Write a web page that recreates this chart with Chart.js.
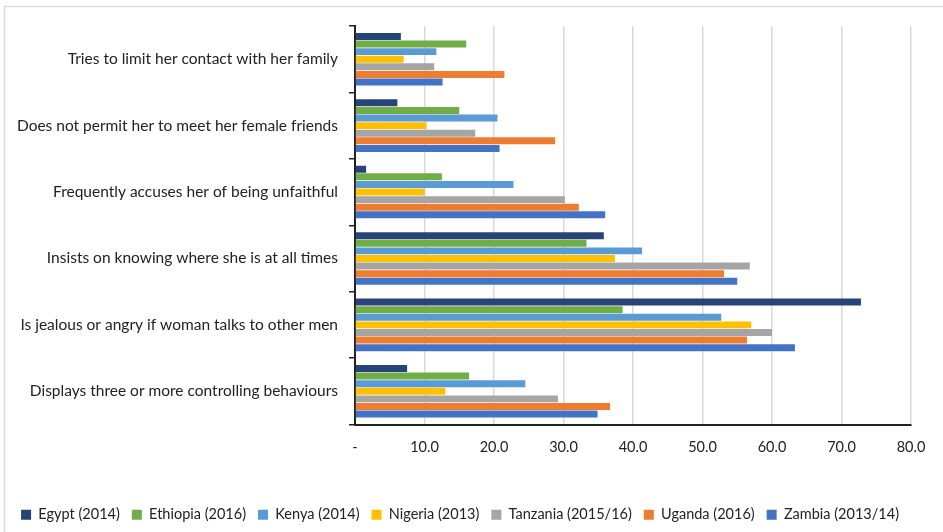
<!DOCTYPE html>
<html>
<head>
<meta charset="utf-8">
<script src="https://cdn.jsdelivr.net/npm/chart.js@4"></script>
<style>
  html, body { margin: 0; padding: 0; background: #fff; }
</style>
</head>
<body>
<canvas id="myChart" width="943" height="532"></canvas>
<script>
const behaviours = [
  "Tries to limit her contact with her family",
  "Does not permit her to meet her female friends",
  "Frequently accuses her of being unfaithful",
  "Insists on knowing where she is at all times",
  "Is jealous or angry if woman talks to other men",
  "Displays three or more controlling behaviours",
];

const countries = [
  "Egypt (2014)",
  "Ethiopia (2016)",
  "Kenya (2014)",
  "Nigeria (2013)",
  "Tanzania (2015/16)",
  "Uganda (2016)",
  "Zambia (2013/14)",
];

const egypt = [6.6, 6.1, 1.6, 35.8, 72.8, 7.5];
const ethiopia = [16.0, 15.0, 12.5, 33.3, 38.5, 16.4];
const kenya = [11.7, 20.5, 22.8, 41.3, 52.7, 24.5];
const nigeria = [7.0, 10.3, 10.0, 37.4, 57.0, 13.0];
const tanzania = [11.4, 17.3, 30.2, 56.8, 60.0, 29.2];
const uganda = [21.5, 28.8, 32.2, 53.1, 56.4, 36.7];
const zambia = [12.6, 20.8, 36.0, 55.0, 63.3, 34.9];

const colors = ["#264478", "#70AD47", "#5B9BD5", "#FFC000", "#A5A5A5", "#ED7D31", "#4472C4"];
const series = [egypt, ethiopia, kenya, nigeria, tanzania, uganda, zambia];

const xTicks = [0, 10, 20, 30, 40, 50, 60, 70, 80];

const font = "Lato, 'Open Sans', sans-serif";

// thin grey frame around the chart, open at the right and bottom edges
const frame = {
  id: "frame",
  beforeDraw(chart) {
    const ctx = chart.ctx;
    ctx.save();
    ctx.strokeStyle = "#d9d9d9";
    ctx.lineWidth = 1.5;
    ctx.strokeRect(4.5, 6.5, chart.width + 10, chart.height + 10);
    ctx.restore();
  },
};

let chart = new Chart("myChart", {
  type: "bar",
  data: {
    labels: behaviours,
    datasets: series.map((vals, i) => ({
      label: countries[i],
      data: vals,
      backgroundColor: colors[i],
      borderWidth: 0,
      barPercentage: 0.92,
      categoryPercentage: 0.8,
    })),
  },
  plugins: [frame],
  options: {
    indexAxis: "y",
    responsive: false,
    animation: false,
    devicePixelRatio: 1,
    layout: { padding: { top: 26, right: 32, left: 0, bottom: 0 } },
    plugins: {
      tooltip: { enabled: false },
      legend: {
        position: "bottom",
        align: "end",
        labels: {
          boxWidth: 10,
          boxHeight: 10,
          padding: 12,
          color: "#222",
          font: { family: font, size: 14.5 },
        },
      },
    },
    scales: {
      x: {
        min: 0,
        max: 80,
        afterBuildTicks: (axis) => {
          axis.ticks = xTicks.map((v) => ({ value: v }));
        },
        afterFit: (axis) => {
          axis.height = 71;
        },
        grid: { color: "#d9d9d9", lineWidth: 1.5, drawTicks: false },
        border: { color: "#222", width: 2 },
        ticks: {
          padding: 14,
          color: "#222",
          font: { family: font, size: 14.5 },
          callback: (v) => (v === 0 ? "-" : v.toFixed(1)),
        },
      },
      y: {
        afterFit: (axis) => {
          axis.width = 355;
        },
        grid: { drawOnChartArea: false, tickLength: 6, color: "#222", lineWidth: 1.5 },
        border: { color: "#222", width: 2 },
        ticks: {
          padding: 11,
          color: "#222",
          font: { family: font, size: 15.5 },
        },
      },
    },
  },
});
</script>
</body>
</html>
